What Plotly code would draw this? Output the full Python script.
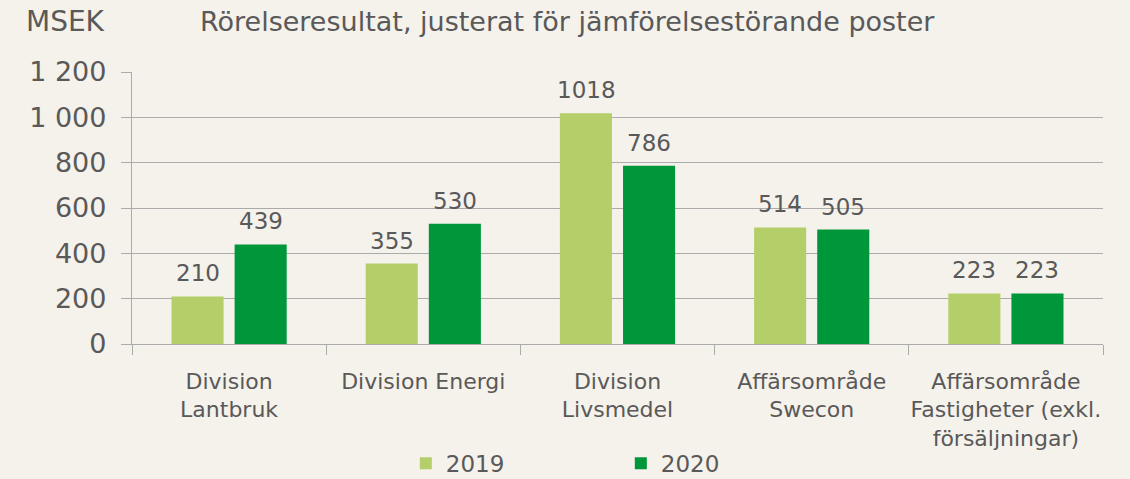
import plotly.graph_objects as go

categories = ["Division<br>Lantbruk", "Division Energi", "Division<br>Livsmedel",
              "Affärsområde<br>Swecon", "Affärsområde<br>Fastigheter (exkl.<br>försäljningar)"]
values_2019 = [210, 355, 1018, 514, 223]
values_2020 = [439, 530, 786, 505, 223]
series_names = ["2019", "2020"]
colors = ["#B4CF6A", "#00963A"]

BG = "#F5F1EB"
TXT = "#595959"
GRID = "#ABABAB"
FONT = "DejaVu Sans, sans-serif"

fig = go.Figure()
for name, vals, col in zip(series_names, [values_2019, values_2020], colors):
    fig.add_trace(go.Bar(x=categories, y=vals, name=name, marker=dict(color=col, line=dict(width=0))))

annotations = []
for vals, shift in [(values_2019, -31.5), (values_2020, 31.5)]:
    for c, v in zip(categories, vals):
        annotations.append(dict(x=c, y=v, xref="x", yref="y", text=str(v), showarrow=False,
                                xshift=shift, yshift=8, yanchor="bottom",
                                font=dict(size=23, color=TXT, family=FONT)))

annotations.append(dict(x=-0.111, y=1.184, xref="paper", yref="paper", text="MSEK", showarrow=False,
                        xanchor="left", yanchor="middle",
                        font=dict(size=28, color=TXT, family=FONT)))
annotations.append(dict(x=0.448, y=1.184, xref="paper", yref="paper",
                        text="Rörelseresultat, justerat för jämförelsestörande poster", showarrow=False,
                        xanchor="center", yanchor="middle",
                        font=dict(size=27, color=TXT, family=FONT)))

fig.update_layout(
    width=1130, height=479,
    paper_bgcolor=BG, plot_bgcolor=BG,
    margin=dict(l=132, r=27, t=72, b=135, autoexpand=False),
    barmode="group", bargap=0.35, bargroupgap=0.175,
    font=dict(family=FONT, color=TXT),
    separators=", ",
    showlegend=True,
    legend=dict(orientation="h", x=0.282, xanchor="left", y=-0.36, yanchor="top",
                font=dict(size=23, color=TXT, family=FONT),
                entrywidth=170, itemwidth=30, bgcolor="rgba(0,0,0,0)"),
    annotations=annotations,
)

fig.update_yaxes(range=[0, 1200], dtick=200, tick0=0, separatethousands=True, automargin=False,
                 showgrid=True, gridcolor=GRID, gridwidth=1.3,
                 zeroline=True, zerolinecolor=GRID, zerolinewidth=1.3,
                 ticks="outside", ticklen=10, tickcolor=GRID, tickwidth=1.3,
                 showline=True, linecolor=GRID, linewidth=1.3,
                 tickfont=dict(size=27, color=TXT, family=FONT), ticklabelstandoff=9)
fig.update_xaxes(ticks="outside", tickson="boundaries", ticklen=10, tickcolor=GRID, tickwidth=1.3,
                 showline=True, linecolor=GRID, linewidth=1.3, automargin=False, tickangle=0,
                 tickfont=dict(size=22, color=TXT, family=FONT), ticklabelstandoff=17)

fig.write_html("out.html", config={"displayModeBar": False},
               post_script="document.body.style.margin='0';document.body.style.background='#F5F1EB';")
